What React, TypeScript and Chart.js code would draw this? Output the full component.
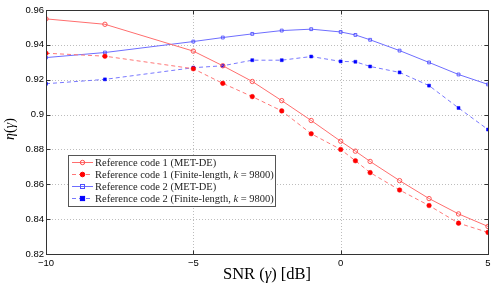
import React, { useEffect, useRef } from "react";
import { Chart, registerables } from "chart.js";

Chart.register(...registerables);

// ---- data ----
const snr = [-10, -8, -5, -4, -3, -2, -1, 0, 0.5, 1, 2, 3, 4, 5];
const code1MetDe = [0.9549, 0.9518, 0.9364, 0.928, 0.919, 0.908, 0.8966, 0.8847, 0.879, 0.8731, 0.8621, 0.8518, 0.843, 0.8358];
const code1Finite = [0.9352, 0.9335, 0.9263, 0.9179, 0.9103, 0.9021, 0.889, 0.88, 0.8735, 0.8667, 0.8567, 0.8478, 0.8377, 0.8324];
const code2MetDe = [0.9327, 0.9356, 0.9419, 0.9442, 0.9463, 0.9482, 0.949, 0.9474, 0.9457, 0.9429, 0.9367, 0.9299, 0.923, 0.9173];
const code2Finite = [0.9177, 0.9202, 0.9269, 0.928, 0.9312, 0.9312, 0.9333, 0.9305, 0.9303, 0.9276, 0.9242, 0.9166, 0.9038, 0.8914];

const seriesLabels = [
  "Reference code 1 (MET-DE)",
  "Reference code 1 (Finite-length, k = 9800)",
  "Reference code 2 (MET-DE)",
  "Reference code 2 (Finite-length, k = 9800)",
];
const xTickValues = [-10, -5, 0, 5];
const xTickLabels = ["\u221210", "\u22125", "0", "5"];
const yTickValues = [0.82, 0.84, 0.86, 0.88, 0.9, 0.92, 0.94, 0.96];
const yTickLabels = ["0.82", "0.84", "0.86", "0.88", "0.9", "0.92", "0.94", "0.96"];

const SERIF = "'Liberation Serif', 'DejaVu Serif', serif";
const SANS = "'Liberation Sans', Arial, sans-serif";

type Seg = [string, boolean];

function drawRuns(ctx: CanvasRenderingContext2D, segs: Seg[], size: number, x: number, y: number, align: "left" | "center") {
  const font = (it: boolean) => `${it ? "italic " : ""}${size}px ${SERIF}`;
  let total = 0;
  for (const [t, it] of segs) {
    ctx.font = font(it);
    total += ctx.measureText(t).width;
  }
  let cx = align === "center" ? x - total / 2 : x;
  ctx.textAlign = "left";
  for (const [t, it] of segs) {
    ctx.font = font(it);
    ctx.fillText(t, cx, y);
    cx += ctx.measureText(t).width;
  }
  return total;
}

function labelSegs(label: string): Seg[] {
  const parts = label.split(/(\bk\b)/);
  return parts.filter((p) => p.length > 0).map((p) => [p, p === "k"] as Seg);
}

const framePlugin = {
  id: "frame",
  beforeDatasetsDraw(chart: any) {
    const { ctx, chartArea: a, scales } = chart;
    ctx.save();
    ctx.strokeStyle = "#bdbdbd";
    ctx.lineWidth = 1;
    ctx.setLineDash([1, 2]);
    for (const v of xTickValues) {
      const px = Math.round(scales.x.getPixelForValue(v)) + 0.5;
      if (px <= a.left + 1 || px >= a.right - 1) continue;
      ctx.beginPath();
      ctx.moveTo(px, a.top);
      ctx.lineTo(px, a.bottom);
      ctx.stroke();
    }
    for (const v of yTickValues) {
      const py = Math.round(scales.y.getPixelForValue(v)) + 0.5;
      if (py <= a.top + 1 || py >= a.bottom - 1) continue;
      ctx.beginPath();
      ctx.moveTo(a.left, py);
      ctx.lineTo(a.right, py);
      ctx.stroke();
    }
    ctx.restore();
  },
  afterDatasetsDraw(chart: any) {
    const { ctx, chartArea: a, scales } = chart;
    ctx.save();
    ctx.setLineDash([]);
    ctx.strokeStyle = "#333";
    ctx.lineWidth = 1;
    const L = Math.round(a.left) + 0.5, R = Math.round(a.right) + 0.5;
    const T = Math.round(a.top) + 0.5, B = Math.round(a.bottom) + 0.5;
    ctx.strokeRect(L, T, R - L, B - T);
    const tl = 4;
    ctx.beginPath();
    for (const v of xTickValues) {
      const px = Math.round(scales.x.getPixelForValue(v)) + 0.5;
      ctx.moveTo(px, B); ctx.lineTo(px, B - tl);
      ctx.moveTo(px, T); ctx.lineTo(px, T + tl);
    }
    for (const v of yTickValues) {
      const py = Math.round(scales.y.getPixelForValue(v)) + 0.5;
      ctx.moveTo(L, py); ctx.lineTo(L + tl, py);
      ctx.moveTo(R, py); ctx.lineTo(R - tl, py);
    }
    ctx.stroke();

    // axis titles
    ctx.fillStyle = "#000";
    ctx.textBaseline = "alphabetic";
    drawRuns(ctx, [["SNR (", false], ["\u03b3", true], [") [dB]", false]], 16.5, (a.left + a.right) / 2, 279, "center");
    ctx.save();
    ctx.translate(14, (a.top + a.bottom) / 2 - 3);
    ctx.rotate(-Math.PI / 2);
    drawRuns(ctx, [["\u03b7", true], ["(", false], ["\u03b3", true], [")", false]], 14, 0, 0, "center");
    ctx.restore();

    // legend
    const bx = 68.5, by = 155.5, bw = 207, bh = 51;
    ctx.fillStyle = "#fff";
    ctx.fillRect(bx, by, bw, bh);
    ctx.strokeStyle = "#555";
    ctx.lineWidth = 1;
    ctx.strokeRect(bx, by, bw, bh);
    const rows = [162.5, 174.5, 186.5, 198.5];
    chart.data.datasets.forEach((ds: any, i: number) => {
      const y = rows[i];
      ctx.save();
      ctx.strokeStyle = ds.borderColor;
      ctx.lineWidth = 1;
      ctx.setLineDash(ds.borderDash || []);
      ctx.beginPath();
      ctx.moveTo(72, y);
      ctx.lineTo(93, y);
      ctx.stroke();
      ctx.setLineDash([]);
      ctx.fillStyle = ds.pointBackgroundColor;
      ctx.strokeStyle = ds.pointBorderColor;
      const cx = 82.5;
      if (ds.pointStyle === "circle") {
        ctx.beginPath();
        ctx.arc(cx, y, ds.pointRadius, 0, Math.PI * 2);
        ctx.fill();
        ctx.stroke();
      } else {
        const r = ds.pointRadius;
        ctx.fillRect(cx - r, y - r, 2 * r, 2 * r);
        ctx.strokeRect(cx - r, y - r, 2 * r, 2 * r);
      }
      ctx.restore();
      ctx.fillStyle = "#222";
      ctx.textBaseline = "middle";
      drawRuns(ctx, labelSegs(seriesLabels[i]), 10.5, 95, y + 0.5, "left");
    });
    ctx.restore();
  },
};

function toPoints(ys: number[]) {
  return snr.map((x, i) => ({ x, y: ys[i] }));
}

export default function App() {
  const ref = useRef<HTMLCanvasElement | null>(null);
  useEffect(() => {
    if (!ref.current) return;
    const red = "rgb(255,110,110)";
    const blue = "rgb(110,110,255)";
    const chart = new Chart(ref.current, {
      type: "line",
      data: {
        datasets: [
          {
            label: seriesLabels[0],
            data: toPoints(code1MetDe),
            borderColor: red,
            borderWidth: 1,
            pointStyle: "circle",
            pointRadius: 2.2,
            pointBorderWidth: 0.9,
            pointBackgroundColor: "rgba(255,255,255,0)",
            pointBorderColor: "rgb(255,70,70)",
          },
          {
            label: seriesLabels[1],
            data: toPoints(code1Finite),
            borderColor: "rgb(255,120,120)",
            borderWidth: 1,
            borderDash: [4, 3],
            pointStyle: "circle",
            pointRadius: 2.3,
            pointBorderWidth: 0.5,
            pointBackgroundColor: "rgb(255,0,0)",
            pointBorderColor: "rgb(255,0,0)",
          },
          {
            label: seriesLabels[2],
            data: toPoints(code2MetDe),
            borderColor: blue,
            borderWidth: 1,
            pointStyle: "rect",
            pointRadius: 2,
            pointBorderWidth: 0.9,
            pointBackgroundColor: "rgba(255,255,255,0)",
            pointBorderColor: "rgb(80,80,255)",
          },
          {
            label: seriesLabels[3],
            data: toPoints(code2Finite),
            borderColor: "rgb(120,120,255)",
            borderWidth: 1,
            borderDash: [4, 3],
            pointStyle: "rect",
            pointRadius: 2.1,
            pointBorderWidth: 0.5,
            pointBackgroundColor: "rgb(0,0,255)",
            pointBorderColor: "rgb(0,0,255)",
          },
        ],
      },
      options: {
        responsive: false,
        animation: false,
        devicePixelRatio: 1,
        layout: { padding: { top: 10, right: 10, left: 0, bottom: 0 } },
        plugins: { legend: { display: false }, tooltip: { enabled: false } },
        scales: {
          x: {
            type: "linear",
            min: -10,
            max: 5,
            grid: { display: false, drawTicks: false },
            border: { display: false },
            afterBuildTicks: (s: any) => {
              s.ticks = xTickValues.map((v) => ({ value: v }));
            },
            afterFit: (s: any) => {
              s.height = 32;
            },
            ticks: {
              padding: 4,
              color: "#000",
              font: { family: SANS, size: 9.5 },
              callback: (v: any) => {
                const i = xTickValues.indexOf(Number(v));
                return i >= 0 ? xTickLabels[i] : "";
              },
            },
          },
          y: {
            type: "linear",
            min: 0.82,
            max: 0.96,
            grid: { display: false, drawTicks: false },
            border: { display: false },
            afterBuildTicks: (s: any) => {
              s.ticks = yTickValues.map((v) => ({ value: v }));
            },
            afterFit: (s: any) => {
              s.width = 46;
            },
            ticks: {
              padding: 2,
              color: "#000",
              font: { family: SANS, size: 9.5 },
              callback: (v: any) => {
                const i = yTickValues.findIndex((t) => Math.abs(t - Number(v)) < 1e-6);
                return i >= 0 ? yTickLabels[i] : "";
              },
            },
          },
        },
      } as any,
      plugins: [framePlugin],
    });
    return () => chart.destroy();
  }, []);
  return (
    <div style={{ position: "fixed", left: 0, top: 0, width: 498, height: 286, background: "#fff" }}>
      <canvas ref={ref} width={498} height={286} style={{ display: "block", width: 498, height: 286 }} />
    </div>
  );
}
